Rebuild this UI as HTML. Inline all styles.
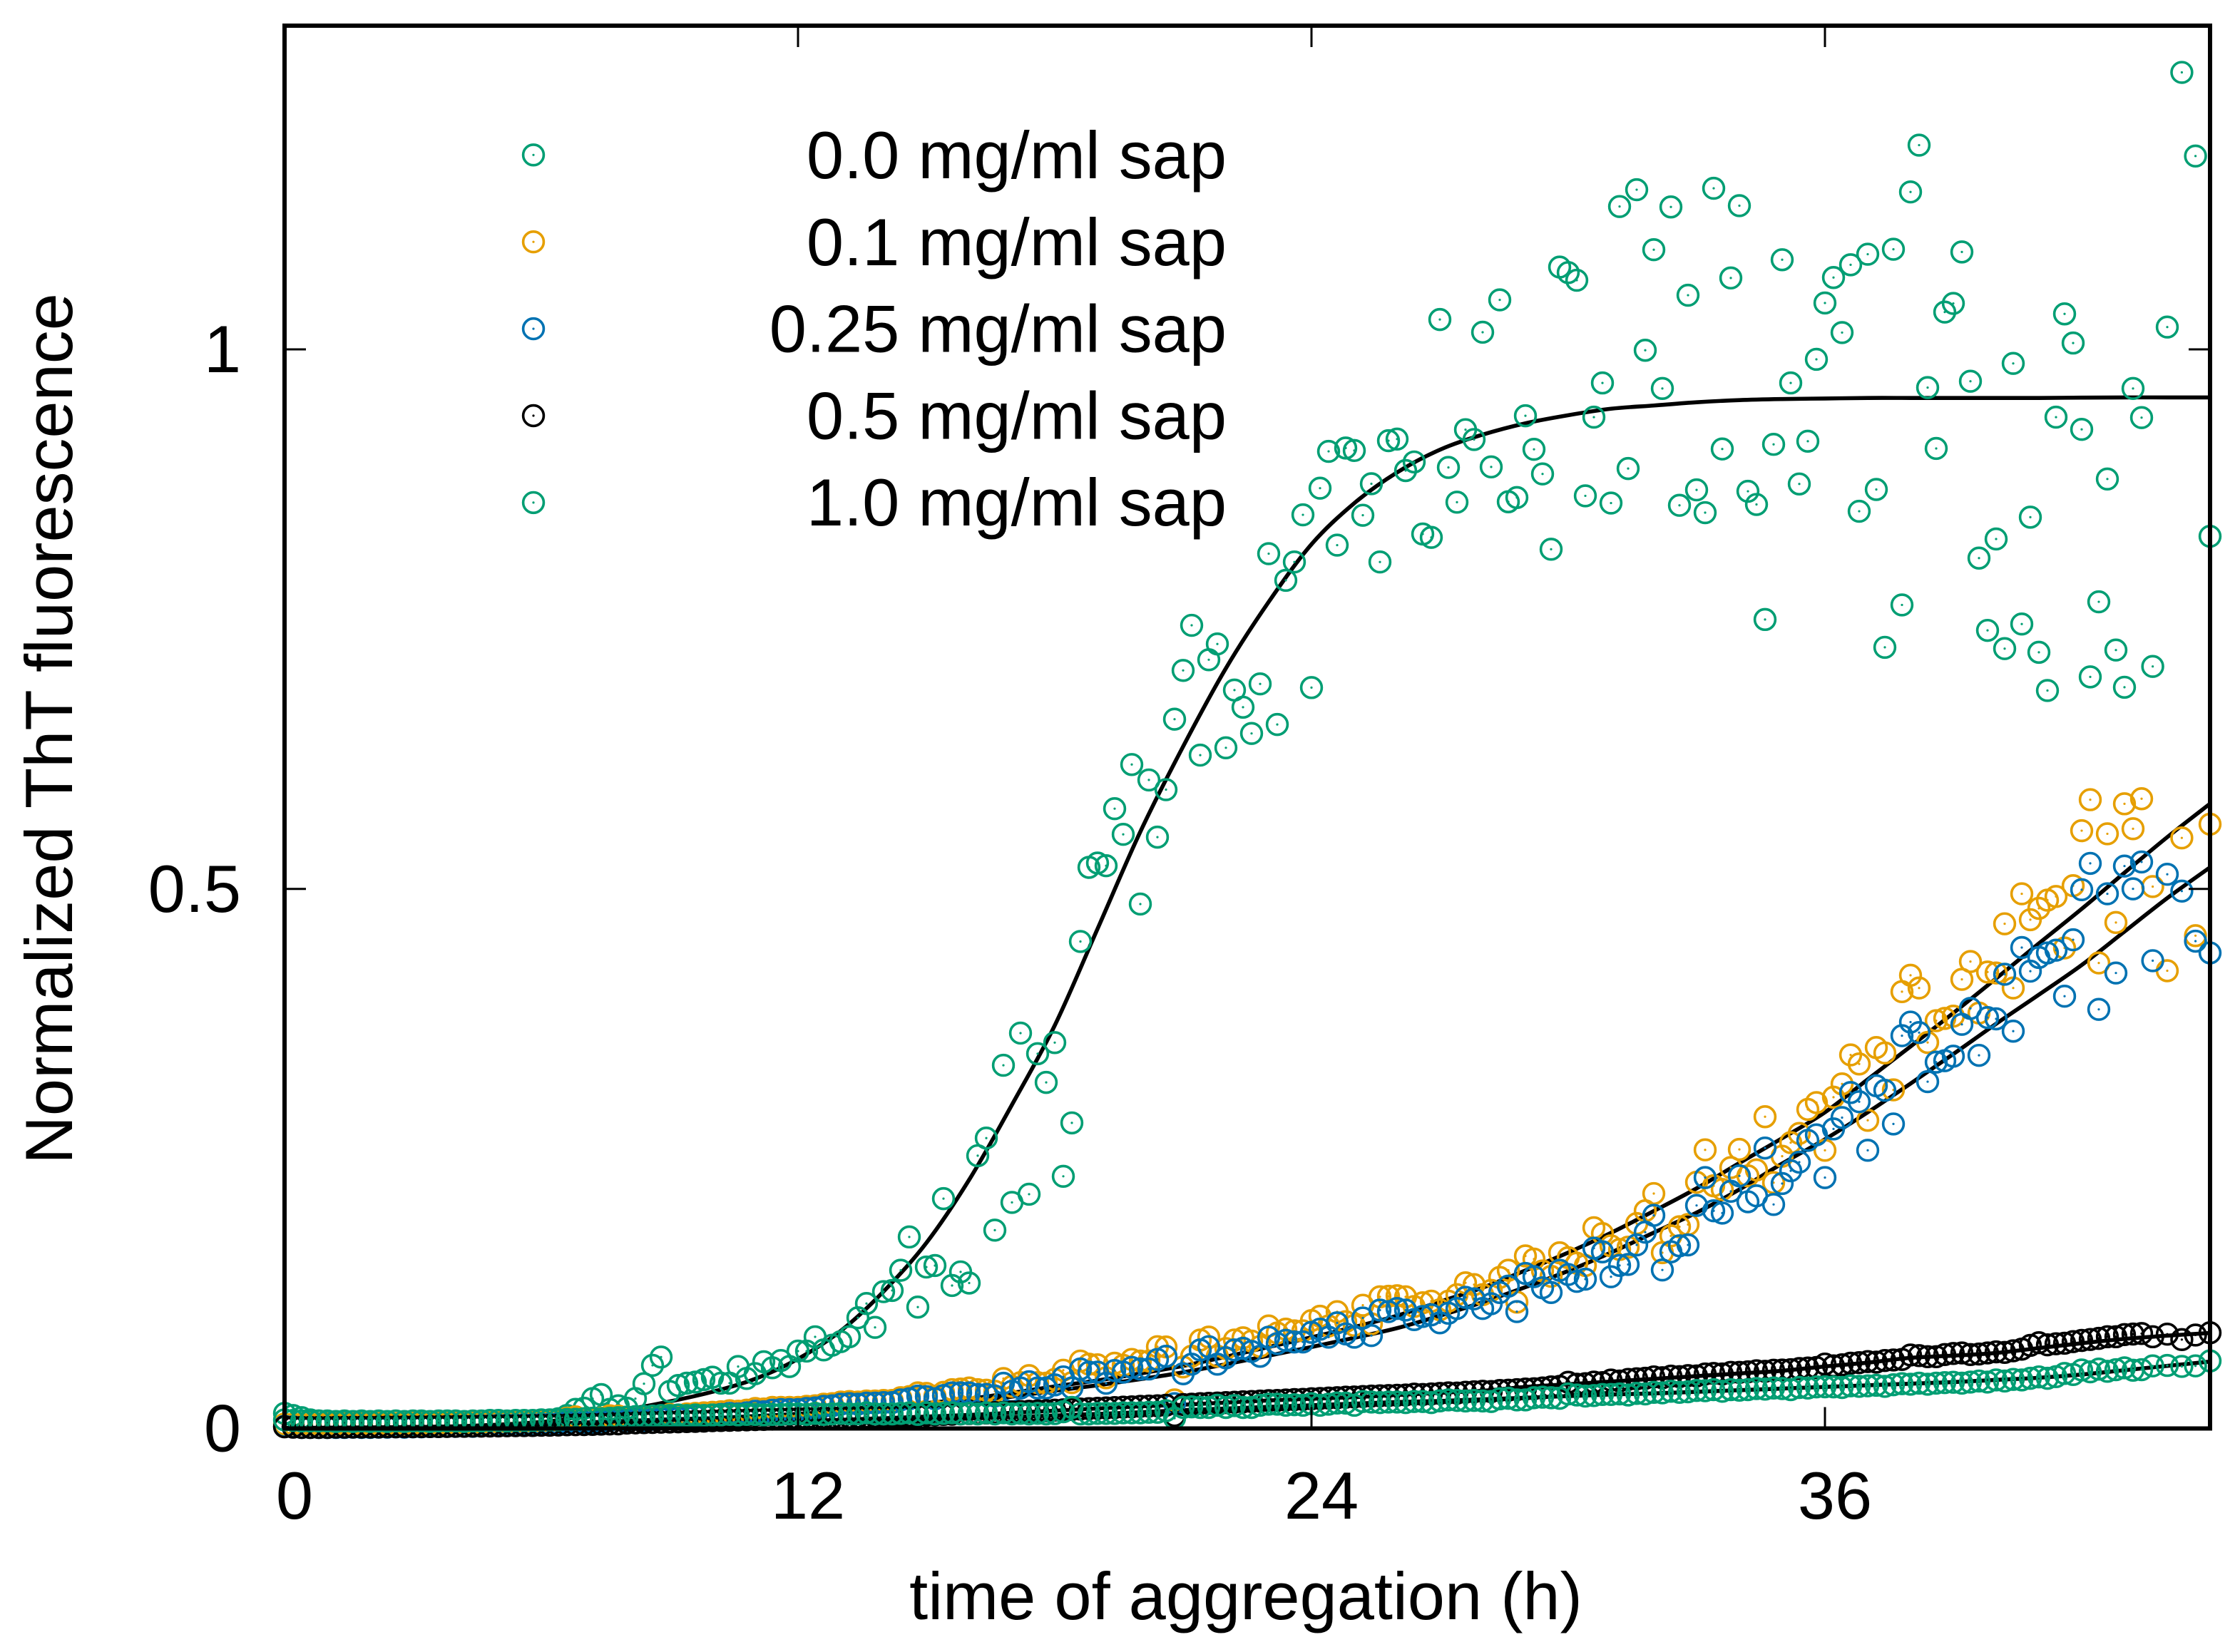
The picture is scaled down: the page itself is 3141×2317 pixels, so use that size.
<!DOCTYPE html>
<html lang="en">
<head>
<meta charset="utf-8">
<title>Normalized ThT fluorescence vs time of aggregation</title>
<style>
html,body{margin:0;padding:0;background:#fff;width:3141px;height:2317px;overflow:hidden}
svg{display:block}
text{font-family:"Liberation Sans",sans-serif;font-size:93.8px;fill:#000}
</style>
</head>
<body>
<svg id="chart" xmlns="http://www.w3.org/2000/svg" width="3141" height="2317" viewBox="0 0 3141 2317">
<rect x="0" y="0" width="3141" height="2317" fill="#ffffff"/>
<g id="fits"></g>
<g id="points"></g>
<g id="legend"></g>
<g id="axes"></g>
<text x="1747" y="2271" text-anchor="middle">time of aggregation (h)</text>
<text transform="translate(101,1022) rotate(-90)" text-anchor="middle">Normalized ThT fluorescence</text>
</svg>
<script>
const times = [
0,0.2,0.4,0.6,0.8,1,1.2,1.4,1.6,1.8,
2,2.2,2.4,2.6,2.8,3,3.2,3.4,3.6,3.8,
4,4.2,4.4,4.6,4.8,5,5.2,5.4,5.6,5.8,
6,6.2,6.4,6.6,6.8,7,7.2,7.4,7.6,7.8,
8,8.2,8.4,8.6,8.8,9,9.2,9.4,9.6,9.8,
10,10.2,10.4,10.6,10.8,11,11.2,11.4,11.6,11.8,
12,12.2,12.4,12.6,12.8,13,13.2,13.4,13.6,13.8,
14,14.2,14.4,14.6,14.8,15,15.2,15.4,15.6,15.8,
16,16.2,16.4,16.6,16.8,17,17.2,17.4,17.6,17.8,
18,18.2,18.4,18.6,18.8,19,19.2,19.4,19.6,19.8,
20,20.2,20.4,20.6,20.8,21,21.2,21.4,21.6,21.8,
22,22.2,22.4,22.6,22.8,23,23.2,23.4,23.6,23.8,
24,24.2,24.4,24.6,24.8,25,25.2,25.4,25.6,25.8,
26,26.2,26.4,26.6,26.8,27,27.2,27.4,27.6,27.8,
28,28.2,28.4,28.6,28.8,29,29.2,29.4,29.6,29.8,
30,30.2,30.4,30.6,30.8,31,31.2,31.4,31.6,31.8,
32,32.2,32.4,32.6,32.8,33,33.2,33.4,33.6,33.8,
34,34.2,34.4,34.6,34.8,35,35.2,35.4,35.6,35.8,
36,36.2,36.4,36.6,36.8,37,37.2,37.4,37.6,37.8,
38,38.2,38.4,38.6,38.8,39,39.2,39.4,39.6,39.8,
40,40.2,40.4,40.6,40.8,41,41.2,41.4,41.6,41.8,
42,42.2,42.4,42.6,42.8,43,43.2,43.4,43.66,44,
44.34,44.66,45];
const sap00 = [
.014,.012,.010,.008,.007,.006,.006,.005,.005,.005,
.005,.005,.004,.004,.005,.004,.005,.004,.005,.005,
.005,.005,.006,.005,.006,.006,.006,.007,.007,.007,
.007,.007,.009,.012,.0177,.0188,.0277,.0314,.0177,.021,
.0188,.0277,.0415,.0585,.0662,.0343,.0398,.042,.043,.0453,
.0475,.042,.042,.0574,.0464,.0508,.0618,.0563,.063,.0574,
.0717,.0717,.0849,.0728,.0772,.0805,.085,.1026,.1158,.0937,
.1268,.1279,.1466,.1775,.1125,.1496,.151,.213,.1325,.1451,
.1348,.2528,.2691,.1838,.3366,.2095,.3664,.2171,.3473,.3207,
.3576,.2337,.2832,.4513,.52,.524,.5215,.5744,.5506,.6153,
.486,.601,.548,.592,.6573,.7025,.7443,.624,.7124,.727,
.6308,.6843,.6684,.6441,.69,.8107,.6524,.786,.803,.8467,
.6866,.8714,.9055,.8186,.9086,.9063,.8463,.8755,.803,.9154,
.9169,.8877,.8957,.8289,.8258,1.0277,.8906,.8584,.9256,.9165,
1.0159,.8911,1.0459,.8588,.8627,.9385,.9074,.8846,.8148,1.0763,
1.0712,1.0641,.8643,.9372,.9689,.8576,1.1324,.8896,1.148,.9992,
1.0924,.9638,1.132,.8555,1.0502,.8698,.8487,1.1493,.9077,1.0662,
1.1332,.8685,.8563,.7497,.912,1.0831,.9689,.8753,.9149,.9908,
1.043,1.0666,1.0156,1.0784,.85,1.0882,.8702,.7239,1.0928,.7632,
1.1459,1.1893,.9646,.9082,1.0346,1.0426,1.0903,.9705,.8066,.7396,
.8243,.7227,.987,.7455,.8445,.7193,.6839,.9372,1.0329,1.0059,
.9259,.6965,.7661,.8799,.7214,.6869,.9638,.9368,.7062,1.0207,
1.2567,1.1792,.8268];
const sap01 = [
.004,.004,.004,.004,.004,.004,.004,.004,.0045,.004,
.004,.0045,.004,.0045,.004,.005,.004,.005,.0045,.005,
.005,.0055,.005,.006,.0055,.0065,.006,.006,.0065,.006,
.0065,.007,.0075,.0095,.0108,.009,.0085,.0095,.0118,.0115,
.0105,.0108,.0095,.011,.0115,.013,.012,.0135,.014,.0145,
.015,.0155,.0165,.016,.017,.0185,.018,.0195,.0195,.0195,
.0195,.0205,.021,.0225,.023,.0245,.025,.0245,.0255,.0255,
.026,.026,.0285,.0295,.033,.0325,.030,.0335,.036,.0365,
.0375,.036,.0355,.0345,.0463,.039,.0425,.049,.0425,.042,
.0455,.054,.0425,.0625,.0596,.059,.047,.0605,.0585,.064,
.0625,.0625,.0758,.0755,.0265,.057,.067,.082,.0847,.067,
.074,.082,.084,.081,.076,.095,.0885,.092,.0905,.0905,
.1,.104,.095,.1082,.099,.0955,.1142,.097,.122,.1225,
.123,.122,.113,.1165,.118,.11,.118,.124,.135,.1333,
.124,.128,.14,.1466,.1171,.1599,.157,.146,.141,.1628,
.1583,.1532,.151,.186,.1806,.1693,.1659,.168,.1899,.2017,
.2177,.1629,.1785,.1869,.189,.2282,.2582,.2249,.2215,.2418,
.2586,.2341,.2396,.2889,.2278,.2523,.2649,.2734,.2957,.302,
.2578,.307,.3193,.3462,.3378,.2856,.353,.348,.3138,.4048,
.42,.4082,.3577,.3779,.38,.3821,.4162,.4327,.385,.423,
.4221,.4677,.4082,.4955,.4715,.482,.4896,.493,.4453,.503,
.554,.5827,.4314,.5511,.4689,.5789,.5558,.5836,.5022,.4242,
.5473,.4567,.56];
const sap025 = [
.002,.0015,.001,.001,.001,.001,.001,.001,.0012,.001,
.001,.0012,.0012,.0015,.0012,.0015,.0015,.0018,.0018,.002,
.002,.0022,.002,.0025,.0025,.003,.003,.0032,.0035,.0035,
.004,.004,.0045,.006,.0085,.006,.0055,.0065,.0075,.0095,
.0075,.0085,.007,.0085,.009,.0105,.0095,.0105,.0115,.012,
.0125,.013,.014,.0135,.0145,.016,.0155,.017,.0175,.0175,
.0175,.0185,.019,.0205,.021,.0225,.023,.0225,.0235,.0235,
.024,.024,.0265,.0275,.03,.0295,.0275,.0305,.033,.033,
.033,.0315,.0315,.0301,.0419,.0345,.0375,.0433,.0375,.0375,
.0404,.0478,.0375,.0551,.0522,.0522,.0419,.0537,.0522,.0566,
.0551,.0551,.064,.0669,.023,.0507,.0596,.0728,.0758,.0596,
.0655,.0728,.0743,.0714,.0669,.0846,.0787,.0817,.0802,.0802,
.0891,.092,.0846,.0979,.0876,.0846,.1024,.0861,.1097,.1083,
.1112,.1097,.1009,.1038,.1053,.0979,.1068,.1112,.1215,.1201,
.1112,.1156,.126,.1319,.1083,.1437,.1407,.1304,.126,.1466,
.1427,.1363,.1384,.1671,.1637,.1406,.1511,.152,.1701,.1819,
.1975,.1469,.1637,.1693,.1701,.2067,.2325,.2017,.1996,.2198,
.2341,.2101,.2156,.2599,.2076,.227,.2388,.2468,.267,.2721,
.2325,.2776,.2881,.3113,.3028,.2578,.3176,.3134,.2822,.364,
.3766,.3669,.3214,.3395,.3408,.345,.3745,.3893,.3458,.3808,
.3796,.4209,.3682,.4457,.4238,.4365,.4407,.4432,.4006,.4529,
.4993,.5237,.3884,.4955,.4221,.5212,.5001,.525,.4335,.5136,
.498,.4516,.4407];
const sap05 = [
.0015,.0012,.001,.001,.001,.001,.0012,.0012,.0013,.0013,
.0013,.0014,.0015,.0015,.0016,.0016,.0017,.0018,.0018,.0019,
.002,.002,.0022,.0022,.0023,.0024,.0025,.0026,.0027,.0028,
.003,.003,.0032,.0034,.0035,.0036,.0038,.004,.0042,.0043,
.005,.0052,.0054,.0056,.0058,.006,.0062,.0064,.0066,.0068,
.0072,.0074,.0076,.0078,.008,.0082,.0084,.0086,.0088,.009,
.0092,.0094,.0096,.0098,.01,.0102,.0104,.0106,.0108,.011,
.0112,.0114,.0116,.0118,.012,.0124,.0127,.013,.0132,.0135,
.0138,.014,.0143,.0147,.015,.0153,.0157,.016,.0163,.0165,
.017,.0173,.0176,.018,.0184,.0187,.019,.0194,.0198,.02,
.0205,.0208,.021,.0215,.012,.0222,.0225,.023,.0233,.0236,
.024,.0243,.0247,.025,.0254,.0258,.026,.0264,.0268,.027,
.0275,.0278,.0282,.0285,.029,.0292,.0296,.03,.0303,.0305,
.0308,.031,.0318,.0315,.032,.0325,.033,.0328,.0336,.034,
.0345,.0342,.0352,.0355,.036,.0365,.0368,.0375,.0385,.039,
.0428,.041,.0415,.043,.0425,.0449,.044,.0455,.046,.0465,
.0478,.047,.0485,.048,.049,.0487,.0505,.051,.0505,.052,
.052,.0525,.0535,.053,.054,.0541,.0545,.0555,.056,.0565,
.0597,.058,.059,.0605,.061,.062,.0615,.063,.0635,.064,
.0681,.0675,.0665,.0665,.0685,.0695,.07,.0685,.069,.07,
.071,.0705,.072,.0735,.077,.0795,.0775,.0785,.079,.0805,
.0816,.0825,.0835,.085,.085,.087,.0875,.088,.085,.0874,
.0824,.0866,.0887];
const sap10 = [
.008,.0075,.007,.007,.007,.007,.0065,.007,.0065,.007,
.0065,.007,.0065,.007,.0065,.007,.007,.0065,.007,.007,
.007,.0065,.007,.007,.0075,.0075,.007,.0075,.0075,.0075,
.008,.008,.008,.0085,.0085,.009,.0095,.009,.0095,.01,
.0105,.011,.011,.0115,.012,.012,.0125,.012,.0125,.012,
.0125,.0125,.013,.0125,.013,.013,.0125,.013,.013,.0135,
.0135,.013,.014,.013,.0135,.014,.0135,.0135,.0145,.0135,
.0135,.0135,.014,.0145,.013,.0145,.0135,.014,.0145,.0135,
.014,.0135,.0145,.0135,.0145,.0135,.014,.0135,.014,.0135,
.0138,.0155,.0195,.0135,.0135,.014,.014,.014,.0145,.0145,
.0145,.015,.015,.0165,.0095,.0195,.02,.0195,.0195,.0215,
.0195,.0212,.0195,.0195,.0215,.0225,.0225,.0215,.022,.0215,
.023,.0215,.0225,.0236,.0235,.0215,.025,.0245,.024,.0245,
.0245,.024,.025,.025,.024,.0256,.0265,.026,.0255,.026,
.0255,.025,.0275,.028,.0265,.0265,.0285,.029,.0285,.028,
.032,.031,.03,.0305,.0315,.0315,.032,.031,.0325,.032,
.0335,.033,.0345,.0335,.034,.0352,.035,.036,.0345,.036,
.0355,.036,.037,.0365,.0375,.037,.036,.038,.0375,.0385,
.0386,.0385,.038,.0395,.039,.0395,.04,.039,.0405,.0415,
.041,.042,.041,.042,.0425,.0428,.042,.043,.044,.043,
.045,.044,.0455,.045,.0465,.0478,.0465,.048,.051,.05,
.0542,.0525,.055,.053,.0545,.0562,.054,.0545,.058,.0584,
.0575,.058,.0626];
const fitTimes = [0,2,4,6,7,8,9,10,11,12,13,14,15,16,17,18,19,20,21,22,23,24,25,26,27,28,29,30,31,32,33,34,35,36,37,38,39,40,41,42,43,44,45];
const fit00 = [.0005,.001,.002,.006,.0115,.0175,.025,.034,.046,.0645,.0905,.127,.172,.2305,.3,.3735,.463,.553,.632,.7045,.766,.8194,.8575,.886,.907,.921,.9315,.939,.945,.948,.951,.953,.954,.9545,.955,.955,.955,.955,.955,.9553,.9555,.9555,.9555];
const fit01 = [.0003,.0008,.0018,.0035,.005,.0065,.008,.0095,.0115,.0135,.016,.0195,.0235,.0275,.033,.039,.0445,.051,.058,.0665,.0755,.0845,.094,.1045,.1175,.1305,.1465,.163,.1813,.2015,.2225,.246,.269,.293,.3235,.354,.385,.417,.4495,.4815,.515,.548,.579];
const fit025 = [.0002,.0008,.0018,.004,.0055,.007,.0085,.0095,.011,.013,.0155,.0185,.0215,.0245,.0295,.035,.04,.0457,.052,.0595,.0675,.0755,.084,.093,.1045,.117,.131,.146,.163,.1815,.2,.2215,.2455,.268,.293,.3196,.347,.375,.402,.4295,.4605,.4915,.52];
const fit05 = [.0003,.0006,.0012,.002,.0026,.0033,.004,.0048,.0058,.0068,.008,.0095,.011,.0125,.0145,.0165,.0185,.0205,.022,.024,.026,.0275,.029,.031,.033,.035,.0385,.041,.0435,.046,.0485,.051,.0535,.0575,.061,.0655,.0675,.07,.0745,.079,.083,.086,.0885];
const fit10 = [.0002,.0004,.0008,.0014,.0018,.0022,.0027,.0033,.004,.0048,.0057,.0068,.008,.0092,.0105,.012,.0135,.015,.017,.0185,.02,.0215,.023,.0245,.0255,.027,.0285,.03,.0315,.0325,.034,.0355,.037,.0385,.04,.0415,.043,.045,.047,.05,.054,.058,.062];
const xTicks = [0,12,24,36];
const xTickLabels = ["0","12","24","36"];
const yTicks = [0,0.5,1];
const yTickLabels = ["0","0.5","1"];
const seriesNames = ["0.0 mg/ml sap","0.1 mg/ml sap","0.25 mg/ml sap","0.5 mg/ml sap","1.0 mg/ml sap"];
const seriesSlugs = ["0-0","0-1","0-25","0-5","1-0"];
const seriesColors = ["#009e73","#e69f00","#0072b2","#000000","#009e73"];
const seriesValues = [sap00,sap01,sap025,sap05,sap10];
const fitValues = [fit00,fit01,fit025,fit05,fit10];

const NS = "http://www.w3.org/2000/svg";
const plotLeft = 399, plotRight = 3099, plotTop = 36, plotBottom = 2003.5;
const xMin = 0, xMax = 45, yMin = 0, yMax = 1.3;
function xScale(t){ return plotLeft + (t - xMin) * (plotRight - plotLeft) / (xMax - xMin); }
function yScale(v){ return plotBottom - (v - yMin) * (plotBottom - plotTop) / (yMax - yMin); }
function make(tag, attrs, parent){
  const el = document.createElementNS(NS, tag);
  for (const k in attrs) el.setAttribute(k, attrs[k]);
  parent.appendChild(el);
  return el;
}
function splinePath(ts, vs){
  const p = ts.map(function(t, i){ return [xScale(t), yScale(vs[i])]; });
  let d = "M" + p[0][0].toFixed(2) + " " + p[0][1].toFixed(2);
  for (let i = 0; i < p.length - 1; i++) {
    const a = p[Math.max(i - 1, 0)], b = p[i], c = p[i + 1], e = p[Math.min(i + 2, p.length - 1)];
    d += "C" + (b[0] + (c[0] - a[0]) / 6).toFixed(2) + " " + (b[1] + (c[1] - a[1]) / 6).toFixed(2) + " " +
         (c[0] - (e[0] - b[0]) / 6).toFixed(2) + " " + (c[1] - (e[1] - b[1]) / 6).toFixed(2) + " " +
         c[0].toFixed(2) + " " + c[1].toFixed(2);
  }
  return d;
}
function marker(parent, cx, cy, color){
  const ring = make("circle", {cx: cx, cy: cy, r: 14.4, fill: "none", stroke: color, "stroke-width": 3.6}, parent);
  
  
  const dot = make("circle", {cx: cx, cy: cy, r: 1.6, fill: color}, parent);
  
  
}

const fitsG = document.getElementById("fits");
fitValues.forEach(function(vals, i){
  const path = make("path", {d: splinePath(fitTimes, vals), fill: "none", stroke: "#000", "stroke-width": 5.6, "stroke-linejoin": "round"}, fitsG);
  
  
});

const pointsG = document.getElementById("points");
seriesValues.forEach(function(vals, i){
  const g = make("g", {}, pointsG);
  
  
  vals.forEach(function(v, j){
    marker(g, xScale(times[j]).toFixed(2), yScale(v).toFixed(2), seriesColors[i]);
  });
});

const legendG = document.getElementById("legend");
seriesNames.forEach(function(name, i){
  const g = make("g", {}, legendG);
  
  
  marker(g, 748, 217.3 + i * 121.9, seriesColors[i]);
  const label = make("text", {x: 1720, y: 250 + i * 121.8, "text-anchor": "end"}, g);
  
  
  label.textContent = name;
});

const axesG = document.getElementById("axes");
const frame = make("rect", {x: plotLeft, y: plotTop, width: plotRight - plotLeft, height: plotBottom - plotTop, fill: "none", stroke: "#000", "stroke-width": 6}, axesG);


xTicks.forEach(function(t, i){
  const x = xScale(t);
  const b = make("line", {x1: x, x2: x, y1: plotBottom, y2: plotBottom - 30, stroke: "#000", "stroke-width": 3}, axesG);
  
  
  const m = make("line", {x1: x, x2: x, y1: plotTop, y2: plotTop + 30, stroke: "#000", "stroke-width": 3}, axesG);
  
  
  const label = make("text", {x: x + 14, y: 2130, "text-anchor": "middle"}, axesG);
  
  
  label.textContent = xTickLabels[i];
});
yTicks.forEach(function(v, i){
  const y = yScale(v);
  const l = make("line", {x1: plotLeft, x2: plotLeft + 30, y1: y, y2: y, stroke: "#000", "stroke-width": 3}, axesG);
  
  
  const r = make("line", {x1: plotRight, x2: plotRight - 30, y1: y, y2: y, stroke: "#000", "stroke-width": 3}, axesG);
  
  
  const label = make("text", {x: 338, y: y + 32, "text-anchor": "end"}, axesG);
  
  
  label.textContent = yTickLabels[i];
});
</script>
</body>
</html>
